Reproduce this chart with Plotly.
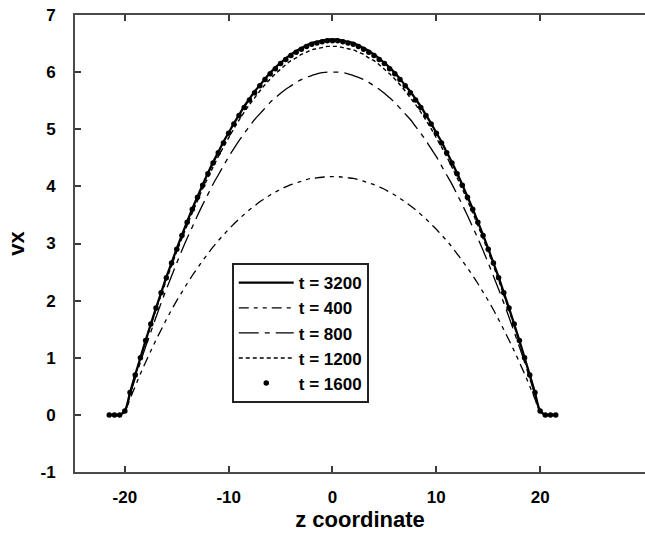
import plotly.graph_objects as go

# z positions (z coordinate)
z = [-21.5, -21.0, -20.5, -20.0, -19.5, -19.0, -18.5, -18.0, -17.5, -17.0, -16.5, -16.0,
     -15.5, -15.0, -14.5, -14.0, -13.5, -13.0, -12.5, -12.0, -11.5, -11.0, -10.5, -10.0,
     -9.5, -9.0, -8.5, -8.0, -7.5, -7.0, -6.5, -6.0, -5.5, -5.0, -4.5, -4.0, -3.5, -3.0,
     -2.5, -2.0, -1.5, -1.0, -0.5, 0.0, 0.5, 1.0, 1.5, 2.0, 2.5, 3.0, 3.5, 4.0, 4.5, 5.0,
     5.5, 6.0, 6.5, 7.0, 7.5, 8.0, 8.5, 9.0, 9.5, 10.0, 10.5, 11.0, 11.5, 12.0, 12.5, 13.0,
     13.5, 14.0, 14.5, 15.0, 15.5, 16.0, 16.5, 17.0, 17.5, 18.0, 18.5, 19.0, 19.5, 20.0,
     20.5, 21.0, 21.5]

v_t3200 = [0, 0, 0, 0.07, 0.39, 0.70, 1.00, 1.30, 1.59, 1.87, 2.14, 2.41, 2.66, 2.91, 3.15,
           3.38, 3.61, 3.82, 4.03, 4.23, 4.42, 4.60, 4.78, 4.94, 5.10, 5.25, 5.40, 5.53, 5.66,
           5.77, 5.88, 5.99, 6.08, 6.16, 6.24, 6.31, 6.37, 6.42, 6.47, 6.51, 6.53, 6.55, 6.57,
           6.57,
           6.57, 6.55, 6.53, 6.51, 6.47, 6.42, 6.37, 6.31, 6.24, 6.16, 6.08, 5.99, 5.88, 5.77,
           5.66, 5.53, 5.40, 5.25, 5.10, 4.94, 4.78, 4.60, 4.42, 4.23, 4.03, 3.82, 3.61, 3.38,
           3.15, 2.91, 2.66, 2.41, 2.14, 1.87, 1.59, 1.30, 1.00, 0.70, 0.39, 0.07, 0, 0, 0]

v_t400 = [0, 0, 0, 0.05, 0.28, 0.50, 0.72, 0.92, 1.12, 1.31, 1.49, 1.67, 1.84, 2.00, 2.15,
          2.30, 2.44, 2.57, 2.70, 2.82, 2.94, 3.05, 3.15, 3.25, 3.34, 3.43, 3.51, 3.59, 3.66,
          3.73, 3.79, 3.85, 3.90, 3.95, 3.99, 4.03, 4.06, 4.09, 4.12, 4.14, 4.15, 4.16, 4.17,
          4.17,
          4.17, 4.16, 4.15, 4.14, 4.12, 4.09, 4.06, 4.03, 3.99, 3.95, 3.90, 3.85, 3.79, 3.73,
          3.66, 3.59, 3.51, 3.43, 3.34, 3.25, 3.15, 3.05, 2.94, 2.82, 2.70, 2.57, 2.44, 2.30,
          2.15, 2.00, 1.84, 1.67, 1.49, 1.31, 1.12, 0.92, 0.72, 0.50, 0.28, 0.05, 0, 0, 0]

v_t800 = [0, 0, 0, 0.06, 0.35, 0.64, 0.92, 1.19, 1.45, 1.71, 1.96, 2.20, 2.43, 2.66, 2.88,
          3.09, 3.29, 3.49, 3.68, 3.86, 4.04, 4.20, 4.36, 4.52, 4.66, 4.80, 4.93, 5.05, 5.17,
          5.27, 5.37, 5.47, 5.55, 5.63, 5.70, 5.76, 5.82, 5.87, 5.91, 5.94, 5.97, 5.99, 6.00,
          6.00,
          6.00, 5.99, 5.97, 5.94, 5.91, 5.87, 5.82, 5.76, 5.70, 5.63, 5.55, 5.47, 5.37, 5.27,
          5.17, 5.05, 4.93, 4.80, 4.66, 4.52, 4.36, 4.20, 4.04, 3.86, 3.68, 3.49, 3.29, 3.09,
          2.88, 2.66, 2.43, 2.20, 1.96, 1.71, 1.45, 1.19, 0.92, 0.64, 0.35, 0.06, 0, 0, 0]

v_t1200 = [0, 0, 0, 0.06, 0.38, 0.69, 0.99, 1.28, 1.56, 1.84, 2.10, 2.36, 2.61, 2.86, 3.09,
           3.32, 3.54, 3.75, 3.96, 4.15, 4.34, 4.52, 4.69, 4.85, 5.01, 5.16, 5.30, 5.43, 5.55,
           5.67, 5.78, 5.88, 5.97, 6.05, 6.13, 6.20, 6.25, 6.31, 6.35, 6.39, 6.41, 6.43, 6.45,
           6.45,
           6.45, 6.43, 6.41, 6.39, 6.35, 6.31, 6.25, 6.20, 6.13, 6.05, 5.97, 5.88, 5.78, 5.67,
           5.55, 5.43, 5.30, 5.16, 5.01, 4.85, 4.69, 4.52, 4.34, 4.15, 3.96, 3.75, 3.54, 3.32,
           3.09, 2.86, 2.61, 2.36, 2.10, 1.84, 1.56, 1.28, 0.99, 0.69, 0.38, 0.06, 0, 0, 0]

v_t1600 = [0, 0, 0, 0.07, 0.39, 0.70, 1.00, 1.30, 1.59, 1.87, 2.14, 2.40, 2.66, 2.90, 3.14,
           3.37, 3.60, 3.81, 4.02, 4.22, 4.41, 4.59, 4.76, 4.93, 5.09, 5.24, 5.38, 5.51, 5.64,
           5.76, 5.87, 5.97, 6.06, 6.15, 6.22, 6.29, 6.35, 6.40, 6.45, 6.49, 6.51, 6.53, 6.55,
           6.55,
           6.55, 6.53, 6.51, 6.49, 6.45, 6.40, 6.35, 6.29, 6.22, 6.15, 6.06, 5.97, 5.87, 5.76,
           5.64, 5.51, 5.38, 5.24, 5.09, 4.93, 4.76, 4.59, 4.41, 4.22, 4.02, 3.81, 3.60, 3.37,
           3.14, 2.90, 2.66, 2.40, 2.14, 1.87, 1.59, 1.30, 1.00, 0.70, 0.39, 0.07, 0, 0, 0]

x_ticks = [-20, -10, 0, 10, 20]
x_tick_text = ["-20", "-10", "0", "10", "20"]
y_ticks = [-1, 0, 1, 2, 3, 4, 5, 6, 7]
y_tick_text = ["-1", "0", "1", "2", "3", "4", "5", "6", "7"]

FONT = "Liberation Sans, Arial, sans-serif"

fig = go.Figure()
fig.add_trace(go.Scatter(x=z, y=v_t3200, mode="lines", name="t = 3200",
                         line=dict(color="black", width=2.3, shape="spline")))
fig.add_trace(go.Scatter(x=z, y=v_t400, mode="lines", name="t = 400",
                         line=dict(color="black", width=1.3, shape="spline",
                                   dash="10px,5px,4px,5px,4px,5px")))
fig.add_trace(go.Scatter(x=z, y=v_t800, mode="lines", name="t = 800",
                         line=dict(color="black", width=1.3, shape="spline",
                                   dash="20px,6px,5px,6px")))
fig.add_trace(go.Scatter(x=z, y=v_t1200, mode="lines", name="t = 1200",
                         line=dict(color="black", width=1.4, shape="spline",
                                   dash="4px,3px")))
fig.add_trace(go.Scatter(x=z, y=v_t1600, mode="markers", name="t = 1600",
                         marker=dict(color="black", size=5.5, symbol="circle")))

axis_common = dict(
    showgrid=False, zeroline=False, showline=True, linecolor="#4a4a4a", linewidth=2,
    ticks="inside", ticklen=6, tickwidth=1.5, tickcolor="#3a3a3a",
    tickfont=dict(family=FONT, size=17, color="black", weight="bold"),
)

fig.update_layout(
    width=645, height=540,
    margin=dict(l=75, r=0, t=15, b=68),
    paper_bgcolor="white", plot_bgcolor="white",
    xaxis=dict(range=[-24.8, 30.1], tickvals=x_ticks, ticktext=x_tick_text, mirror="ticks",
               ticklabelstandoff=9,
               title=dict(text="z coordinate", standoff=5,
                          font=dict(family=FONT, size=22, color="black", weight="bold")),
               **axis_common),
    yaxis=dict(range=[-1, 7], tickvals=y_ticks, ticktext=y_tick_text, mirror=False,
               ticklabelstandoff=14,
               title=dict(text="vx", standoff=10,
                          font=dict(family=FONT, size=22, color="black", weight="bold")),
               **axis_common),
    legend=dict(x=0.275, y=0.457, xanchor="left", yanchor="top",
                bgcolor="white", bordercolor="#222222", borderwidth=2,
                font=dict(family=FONT, size=17, color="black", weight="bold"),
                itemwidth=55, tracegroupgap=0),
    showlegend=True,
)

fig.write_html("out.html")
